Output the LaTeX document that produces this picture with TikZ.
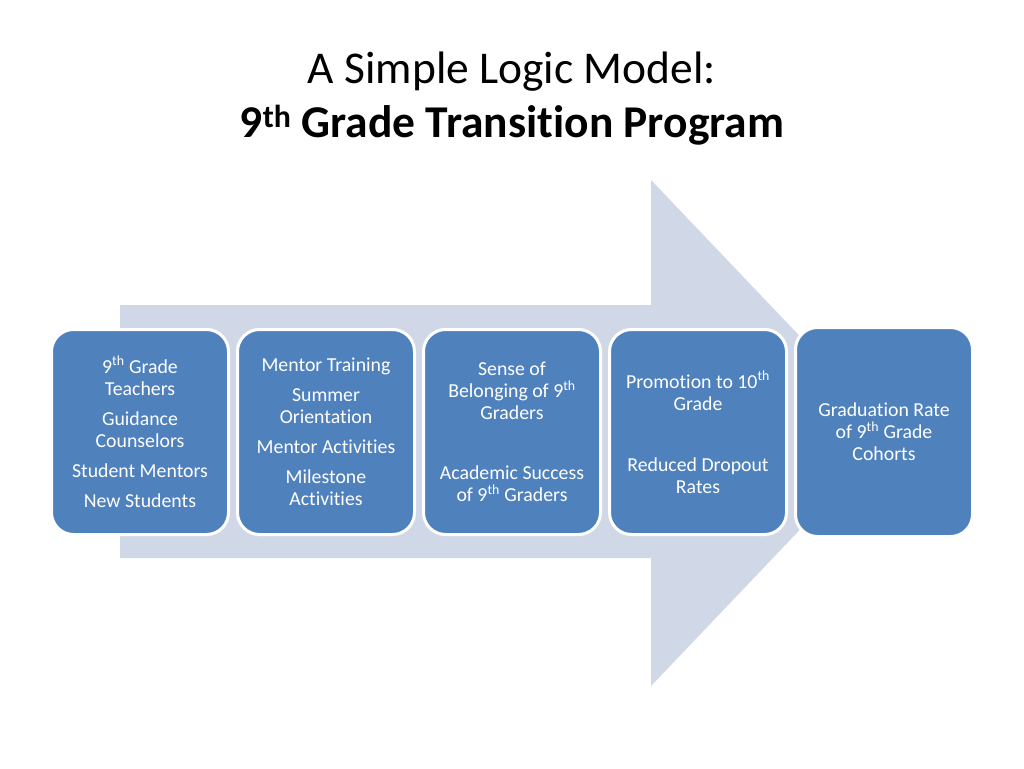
\documentclass[tikz,border=0pt]{standalone}
\usepackage{fontspec}
\setmainfont{Carlito}[RawFeature={-liga;-dlig;-clig;-calt;-rlig}]
\usetikzlibrary{positioning,calc}
\definecolor{boxblue}{HTML}{4F81BD}
\definecolor{arrowgrey}{HTML}{D0D8E8}
\newcommand{\nth}[1]{#1\textsuperscript{th}}

\begin{document}
\begin{tikzpicture}[x=1pt,y=-1pt,node distance=6pt,
  every node/.style={align=center},
  stage/.style={draw=white,line width=3pt,rounded corners=22pt,fill=boxblue,text=white,minimum width=177pt,minimum height=205pt,font=\fontsize{19.8}{22}\selectfont}]
\useasboundingbox[fill=white] (0,0) rectangle (1024,768);
% big arrow behind the boxes
\fill[arrowgrey] (120,305) -- (651,305) -- (651,180) -- (892,433) -- (651,686) -- (651,558) -- (120,558) -- cycle;
\node[anchor=base,font=\fontsize{45.5}{54}\selectfont] (title) at (512,83) {A Simple Logic Model:};
\node[anchor=base,font=\fontsize{45.5}{54}\selectfont\bfseries] (subtitle) at (512,137) {\nth{9} Grade Transition Program};
\node[stage] (inputs) at (140,432) {\nth{9} Grade\\Teachers\\[8pt]Guidance\\Counselors\\[8pt]Student Mentors\\[8pt]New Students};
\node[stage,right=of inputs] (activities) {Mentor Training\\[8pt]Summer\\Orientation\\[8pt]Mentor Activities\\[8pt]Milestone\\Activities};
\node[stage,right=of activities] (shortterm) {Sense of\\Belonging of \nth{9}\\Graders\\[38pt]Academic Success\\of \nth{9} Graders};
\node[stage,right=of shortterm] (midterm) {Promotion to \nth{10}\\Grade\\[39pt]Reduced Dropout\\Rates};
\node[stage,minimum height=209pt,right=of midterm] (longterm) {Graduation Rate\\of \nth{9} Grade\\Cohorts};
\end{tikzpicture}
\end{document}
